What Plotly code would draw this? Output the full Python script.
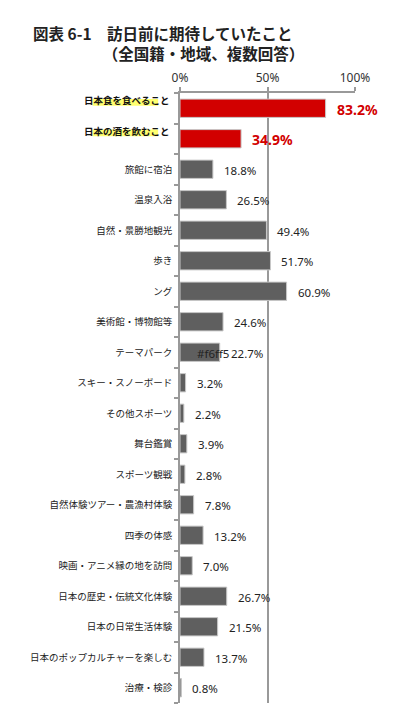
import plotly.graph_objects as go

categories = [
    "日本食を食べること", "日本の酒を飲むこと", "旅館に宿泊", "温泉入浴", "自然・景勝地観光",
    "歩き", "ング", "美術館・博物館等", "テーマパーク", "スキー・スノーボード",
    "その他スポーツ", "舞台鑑賞", "スポーツ観戦", "自然体験ツアー・農漁村体験", "四季の体感",
    "映画・アニメ縁の地を訪問", "日本の歴史・伝統文化体験", "日本の日常生活体験",
    "日本のポップカルチャーを楽しむ", "治療・検診",
]
values = [83.2, 34.9, 18.8, 26.5, 49.4, 51.7, 60.9, 24.6, 22.7, 3.2,
          2.2, 3.9, 2.8, 7.8, 13.2, 7.0, 26.7, 21.5, 13.7, 0.8]
highlighted = [0, 1]
x_ticks = [0, 50, 100]
x_tick_labels = ["0%", "50%", "100%"]
title_line1 = "図表 6-1　訪日前に期待していたこと"
title_line2 = "　　　　　（全国籍・地域、複数回答）"
stray_text = "#f6ff5"
stray_index = 8

RED = "#d20000"
GRAY = "#5f5f5f"
JP = "Noto Sans CJK JP"

colors = [RED if i in highlighted else GRAY for i in range(len(categories))]

fig = go.Figure()
fig.add_trace(go.Bar(
    x=values, y=categories, orientation="h",
    marker=dict(color=colors, line=dict(color="#c8c8c8", width=1)),
    width=0.6, hoverinfo="skip",
))

annotations = []
shapes = []
for i, (c, v) in enumerate(zip(categories, values)):
    if i in highlighted:
        annotations.append(dict(
            x=v, y=c, xref="x", yref="y", text=f"<b>{v:.1f}%</b>", showarrow=False,
            xanchor="left", xshift=9, yshift=-1,
            font=dict(family="Noto Sans", size=14, color=RED)))
        annotations.append(dict(
            x=0, y=c, xref="paper", yref="y", text=f"<b>{c}</b>", showarrow=False,
            xanchor="right", xshift=-8, yshift=8,
            font=dict(family=JP, size=9.5, color="#111")))
        shapes.append(dict(type="rect", xref="paper", yref="y",
                           x0=-0.50, x1=-0.125, y0=i - 0.30, y1=i - 0.08,
                           fillcolor="#ffff70", line=dict(width=0), layer="below"))
    else:
        annotations.append(dict(
            x=v, y=c, xref="x", yref="y", text=f"{v:.1f}%", showarrow=False,
            xanchor="left", xshift=9, yshift=-1,
            font=dict(family="Noto Sans", size=11.5, color="#222")))
    if i == stray_index:
        annotations.append(dict(
            x=v, y=c, xref="x", yref="y", text=stray_text, showarrow=False,
            xanchor="right", xshift=11, yshift=-1,
            font=dict(family="Noto Sans", size=11.5, color="#222")))

annotations.append(dict(x=-0.851, y=1.0825, xref="paper", yref="paper",
                        text=f"<b>{title_line1}</b><br><b>{title_line2}</b>",
                        showarrow=False, xanchor="left", yanchor="middle", align="left",
                        font=dict(family=JP, size=15.5, color="#222")))

ticktext = ["" if i in highlighted else c for i, c in enumerate(categories)]

fig.update_layout(
    width=398, height=720,
    margin=dict(l=180, r=43, t=93, b=17),
    paper_bgcolor="white", plot_bgcolor="white",
    showlegend=False,
    bargap=0.4,
    annotations=annotations,
    shapes=shapes,
    xaxis=dict(
        range=[0, 100], side="top", tickvals=x_ticks, ticktext=x_tick_labels,
        showgrid=True, gridcolor="#999999", gridwidth=1.5,
        showline=True, linecolor="#999999", linewidth=1.5,
        ticks="outside", ticklen=4, tickcolor="#999999", tickwidth=1.5,
        tickfont=dict(family="Noto Sans", size=12, color="#333"),
        zeroline=False, fixedrange=True,
    ),
    yaxis=dict(
        autorange="reversed", type="category",
        tickvals=categories, ticktext=ticktext,
        tickson="boundaries", ticks="outside", ticklen=4, tickcolor="#999999", tickwidth=1.5,
        ticklabelstandoff=4,
        showline=True, linecolor="#999999", linewidth=1.5, showgrid=False,
        tickfont=dict(family=JP, size=9.5, color="#222"),
        fixedrange=True,
    ),
)

fig.write_html("out.html")
